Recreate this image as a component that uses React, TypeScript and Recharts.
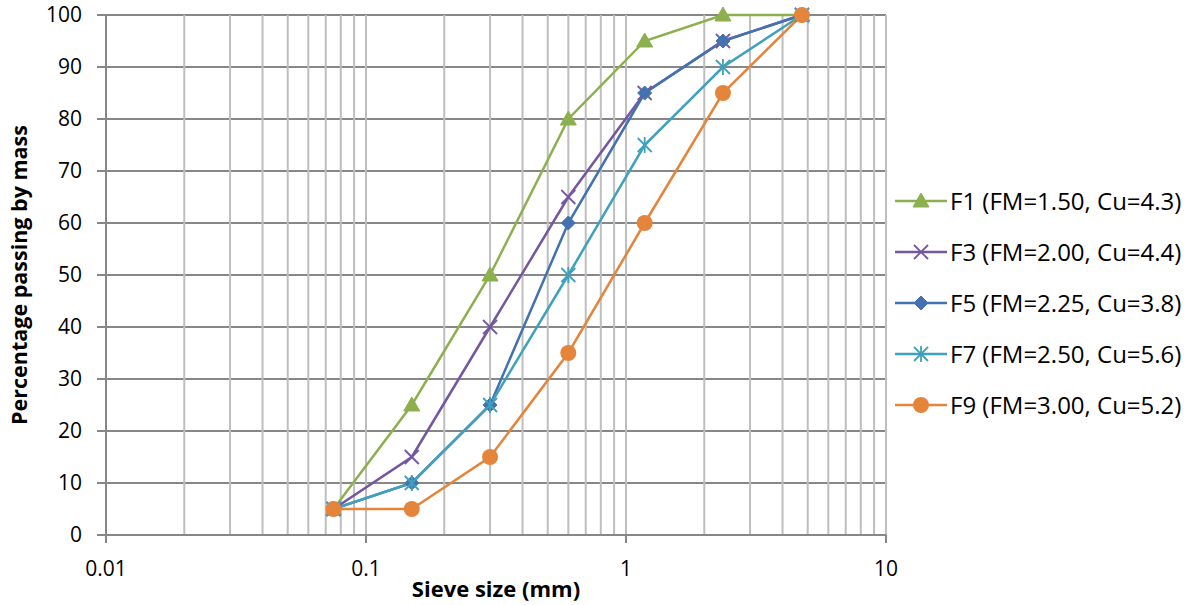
import React from 'react';
import { LineChart, Line, XAxis, YAxis, CartesianGrid, ReferenceLine, Label } from 'recharts';

const sieveSizes = [0.075, 0.15, 0.3, 0.6, 1.18, 2.36, 4.75];
const f1Values = [5, 25, 50, 80, 95, 100, 100];
const f3Values = [5, 15, 40, 65, 85, 95, 100];
const f5Values = [5, 10, 25, 60, 85, 95, 100];
const f7Values = [5, 10, 25, 50, 75, 90, 100];
const f9Values = [5, 5, 15, 35, 60, 85, 100];

const seriesNames = [
  'F1 (FM=1.50, Cu=4.3)',
  'F3 (FM=2.00, Cu=4.4)',
  'F5 (FM=2.25, Cu=3.8)',
  'F7 (FM=2.50, Cu=5.6)',
  'F9 (FM=3.00, Cu=5.2)',
];
const seriesKeys = ['f1', 'f3', 'f5', 'f7', 'f9'];
const seriesColors = ['#8DB04F', '#7457A0', '#4472B0', '#3FA1BB', '#E5843B'];
const seriesMarkers = ['triangle', 'x', 'diamond', 'star', 'circle'];

const xTicks = [0.01, 0.1, 1, 10];
const yTicks = [0, 10, 20, 30, 40, 50, 60, 70, 80, 90, 100];
const xGridValues = [
  0.02, 0.03, 0.04, 0.05, 0.06, 0.07, 0.08, 0.09, 0.1,
  0.2, 0.3, 0.4, 0.5, 0.6, 0.7, 0.8, 0.9, 1,
  2, 3, 4, 5, 6, 7, 8, 9, 10,
];

const allValues = [f1Values, f3Values, f5Values, f7Values, f9Values];
const data = sieveSizes.map((s, i) => {
  const row: any = { size: s };
  seriesKeys.forEach((k, j) => {
    row[k] = allValues[j][i];
  });
  return row;
});

const FONT = '"Open Sans", sans-serif';

function Marker({ kind, color, cx, cy }: { kind: string; color: string; cx: number; cy: number }) {
  if (kind === 'triangle') {
    return <polygon points={`${cx},${cy - 8} ${cx + 8},${cy + 6} ${cx - 8},${cy + 6}`} fill={color} stroke={color} strokeWidth={1} />;
  }
  if (kind === 'x') {
    return (
      <g stroke={color} strokeWidth={1.8}>
        <line x1={cx - 7} y1={cy - 7} x2={cx + 7} y2={cy + 7} />
        <line x1={cx - 7} y1={cy + 7} x2={cx + 7} y2={cy - 7} />
      </g>
    );
  }
  if (kind === 'diamond') {
    return <polygon points={`${cx},${cy - 7} ${cx + 7},${cy} ${cx},${cy + 7} ${cx - 7},${cy}`} fill={color} stroke={color} strokeWidth={1} />;
  }
  if (kind === 'star') {
    return (
      <g stroke={color} strokeWidth={1.8}>
        <line x1={cx - 7} y1={cy - 7} x2={cx + 7} y2={cy + 7} />
        <line x1={cx - 7} y1={cy + 7} x2={cx + 7} y2={cy - 7} />
        <line x1={cx} y1={cy - 8} x2={cx} y2={cy + 8} />
      </g>
    );
  }
  return <circle cx={cx} cy={cy} r={8} fill={color} />;
}

function LegendContent() {
  return (
    <div style={{ fontFamily: FONT, fontSize: 24, color: '#000' }}>
      {seriesNames.map((name, i) => (
        <div key={name} style={{ display: 'flex', alignItems: 'center', height: 51 }}>
          <svg width={56} height={22} style={{ display: 'block' }}>
            <line x1={2} y1={11} x2={54} y2={11} stroke={seriesColors[i]} strokeWidth={2.5} />
            <Marker kind={seriesMarkers[i]} color={seriesColors[i]} cx={28} cy={11} />
          </svg>
          <span style={{ marginLeft: 1, whiteSpace: 'nowrap' }}>{name}</span>
        </div>
      ))}
    </div>
  );
}

export default function App() {
  return (
    <div style={{ position: 'absolute', left: 0, top: 0, width: 1193, height: 605, background: '#fff' }}>
      <LineChart width={1193} height={605} data={data} margin={{ top: 15, right: 307, left: 0, bottom: 0 }}>
        <CartesianGrid vertical={false} stroke="#878787" strokeWidth={2} />
        {xGridValues.map((v) => (
          <ReferenceLine key={v} x={v} stroke="#BEBEBE" strokeWidth={2} ifOverflow="visible" />
        ))}
        <XAxis
          dataKey="size"
          type="number"
          scale="log"
          domain={[0.01, 10]}
          allowDataOverflow
          ticks={xTicks}
          tickFormatter={(v: number) => String(v)}
          height={70}
          tickSize={8}
          tickMargin={18}
          stroke="#878787"
          strokeWidth={2}
          tick={{ fill: '#000', fontSize: 21, fontFamily: FONT }}
        >
          <Label
            content={(props: any) => {
              const vb = props.viewBox;
              return (
                <text x={vb.x + vb.width / 2} y={vb.y + 62} textAnchor="middle" fontFamily={FONT} fontWeight="bold" fontSize={22} fill="#000">
                  Sieve size (mm)
                </text>
              );
            }}
          />
        </XAxis>
        <YAxis
          type="number"
          domain={[0, 100]}
          ticks={yTicks}
          interval={0}
          width={106}
          tickSize={9}
          tickMargin={15}
          stroke="#878787"
          strokeWidth={2}
          tick={{ fill: '#000', fontSize: 21, fontFamily: FONT }}
        >
          <Label
            content={(props: any) => {
              const vb = props.viewBox;
              const cx = vb.x + 18;
              const cy = vb.y + vb.height / 2;
              return (
                <text x={cx} y={cy} transform={`rotate(-90, ${cx}, ${cy})`} textAnchor="middle" dominantBaseline="central" fontFamily={FONT} fontWeight="bold" fontSize={21.5} fill="#000">
                  Percentage passing by mass
                </text>
              );
            }}
          />
        </YAxis>
        {seriesKeys.map((k, i) => (
          <Line
            key={k}
            dataKey={k}
            name={seriesNames[i]}
            stroke={seriesColors[i]}
            strokeWidth={2.5}
            isAnimationActive={false}
            dot={(p: any) => (
              <Marker key={`${k}-${p.index}`} kind={seriesMarkers[i]} color={seriesColors[i]} cx={p.cx} cy={p.cy} />
            )}
            activeDot={false}
          />
        ))}
      </LineChart>
      <div style={{ position: 'absolute', left: 893, top: 175 }}>
        <LegendContent />
      </div>
    </div>
  );
}
